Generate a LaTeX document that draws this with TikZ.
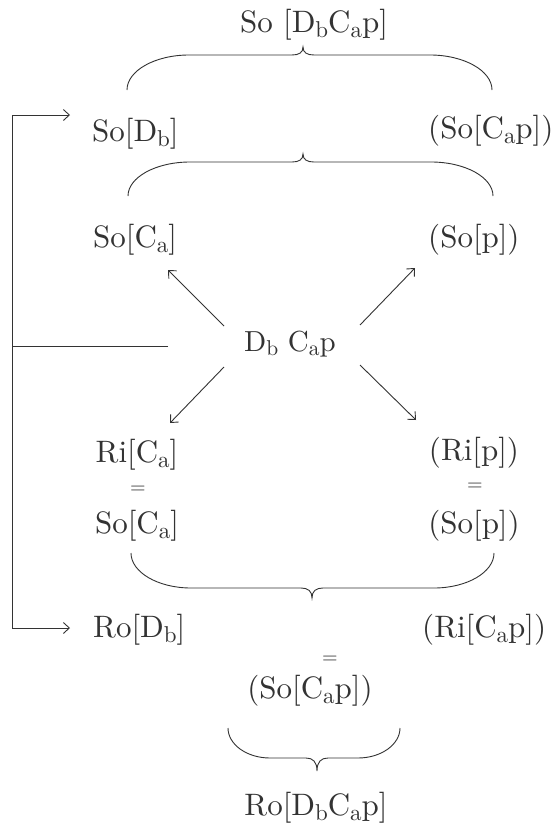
\documentclass[tikz,border=0pt]{standalone}
\usepackage{fontspec}
\setmainfont{lmroman10-regular.otf}
\usetikzlibrary{arrows.meta}
\definecolor{ink}{gray}{0.2}
\makeatletter
\newcommand\sbs[1]{\raisebox{-0.17em}{\fontsize{\fpeval{0.74*\f@size}}{\fpeval{0.8*\f@size}}\selectfont #1}}
\makeatother
% #1 xl, #2 xr, #3 xtip, #4 yend, #5 yline, #6 ytip, #7 curve width
\newcommand\mybrace[7]{%
  \draw[bracestyle] (#1,#4) .. controls (#1,{#4+0.55*(#5-#4)}) and ({#1+0.45*#7},#5) .. ({#1+#7},#5)
    -- ({#3-11},#5) .. controls ({#3-4},#5) and (#3,{#5+0.3*(#6-#5)}) .. (#3,#6)
    .. controls (#3,{#5+0.3*(#6-#5)}) and ({#3+4},#5) .. ({#3+11},#5)
    -- ({#2-#7},#5) .. controls ({#2-0.45*#7},#5) and (#2,{#4+0.55*(#5-#4)}) .. (#2,#4);}
\tikzset{
  lbl/.style={inner sep=0pt, text=ink, font=\fontsize{31}{35}\selectfont},
  ctr/.style={inner sep=0pt, text=ink, font=\fontsize{29}{33}\selectfont},
  eq/.style={inner sep=0pt, text=ink, font=\fontsize{20}{20}\selectfont},
  conn/.style={draw=ink, line width=0.9pt},
  arr/.style={conn, -{Straight Barb[length=6pt,width=11pt]}},
  bracestyle/.style={draw=ink, line width=0.9pt},
}
\begin{document}
\begin{tikzpicture}[x=1pt,y=-1pt]
\useasboundingbox[fill=white] (0,0) rectangle (555,827);
% labels
\node[lbl, anchor=base] (top) at (314,32) {So [D\sbs{b}C\sbs{a}p]};
\node[lbl, anchor=base west] (sodb) at (92,141) {So[D\sbs{b}]};
\node[lbl, anchor=base west] (socap) at (428,138) {(So[C\sbs{a}p])};
\node[lbl, anchor=base west] (soca) at (93,247) {So[C\sbs{a}]};
\node[lbl, anchor=base west] (sop) at (428,247) {(So[p])};
\node[ctr, anchor=base] (dcp) at (290,351) {D\sbs{b} C\sbs{a}p};
\node[lbl, anchor=base] (rica) at (137,462) {Ri[C\sbs{a}]};
\node[eq] (eq1) at (138,490) {=};
\node[lbl, anchor=base] (soca2) at (137,533) {So[C\sbs{a}]};
\node[lbl, anchor=base] (rip) at (474,460) {(Ri[p])};
\node[eq] (eq2) at (475,487) {=};
\node[lbl, anchor=base] (sop2) at (474,533) {(So[p])};
\node[lbl, anchor=base west] (rodb) at (93,637) {Ro[D\sbs{b}]};
\node[lbl, anchor=base west] (ricap) at (422,637) {(Ri[C\sbs{a}p])};
\node[eq] (eq3) at (330,660) {=};
\node[lbl, anchor=base] (socap2) at (310,698) {(So[C\sbs{a}p])};
\node[lbl, anchor=base] (rodbcap) at (316,815) {Ro[D\sbs{b}C\sbs{a}p]};
% braces
\mybrace{127}{492}{303}{90}{55}{47}{62}
\mybrace{128}{493}{303}{196}{162}{154}{62}
\mybrace{131}{494}{312}{553}{588}{598}{60}
\mybrace{228}{400}{317}{728}{758}{771}{42}
% diagonal arrows from the centre
\coordinate (ul0) at (224,326); \coordinate (ul1) at (168,270);
\coordinate (ur0) at (360,325); \coordinate (ur1) at (415,268);
\coordinate (dl0) at (224,367); \coordinate (dl1) at (170,423);
\coordinate (dr0) at (360,365); \coordinate (dr1) at (416,420);
\draw[arr] (ul0) -- (ul1);
\draw[arr] (ur0) -- (ur1);
\draw[arr] (dl0) -- (dl1);
\draw[arr] (dr0) -- (dr1);
% left feedback connector
\coordinate (stub) at (168,346);
\coordinate (lm) at (12,346);
\coordinate (lt) at (12,115);
\coordinate (lb) at (12,628);
\coordinate (at1) at (70,115);
\coordinate (at2) at (70,628);
\draw[conn] (stub) -- (lm);
\draw[arr] (lm) -- (lt) -- (at1);
\draw[arr] (lm) -- (lb) -- (at2);
\end{tikzpicture}
\end{document}
